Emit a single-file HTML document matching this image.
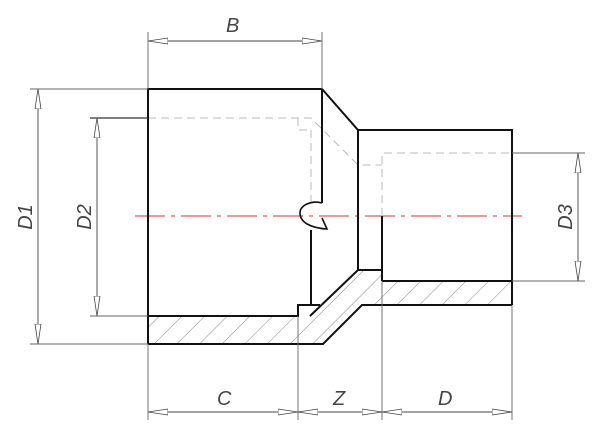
<!DOCTYPE html>
<html><head><style>body{margin:0;background:#fff}svg{display:block}text{font-family:"Liberation Sans",sans-serif;font-style:italic;font-size:20px;fill:#444}</style></head>
<body>
<svg width="600" height="439" viewBox="0 0 600 439">
<defs>
<pattern id="h" patternUnits="userSpaceOnUse" width="16" height="16" patternTransform="rotate(45)">
<line x1="0" y1="0" x2="0" y2="16" stroke="#888" stroke-width="1"/>
</pattern>
<marker id="a" viewBox="0 0 20 8" refX="20" refY="4" markerWidth="20" markerHeight="8" markerUnits="userSpaceOnUse" orient="auto-start-reverse">
<path d="M0,1 L20,4 L0,7 Z" fill="#fff" stroke="#444" stroke-width="0.8"/>
</marker>
</defs>
<polygon points="148,316 310,316 358,270 382,270 382,281 512,281 512,305 362,305 323,344 148,344" fill="url(#h)"/>
<line x1="135" y1="216" x2="522" y2="216" stroke="#d33" stroke-width="1" stroke-dasharray="30,6,4,6"/>
<g stroke="#bbb" fill="none" stroke-dasharray="8,5" stroke-width="1">
<polyline points="148,118 311,118 358,165 382,165"/>
<line x1="311" y1="130" x2="311" y2="205"/>
<polyline points="298,118 298,130 311,130"/>
<polyline points="382,216 382,153 512,153"/>
</g>
<g stroke="#111" fill="none" stroke-width="2">
<polyline points="148,344 148,89 322,89 358,130 512,130 512,305"/>
<line x1="322" y1="89" x2="322" y2="203"/>
<line x1="358" y1="130" x2="358" y2="270"/>
<polyline points="148,316 298,316 298,305 320,305"/>
<polyline points="311,230 311,305"/>
<polyline points="310,316 358,270 382,270"/>
<line x1="382" y1="216" x2="382" y2="281"/>
<polyline points="382,281 512,281"/>
<polyline points="148,344 323,344 362,305 512,305"/>
<path d="M322,203 C312,200 300,205 300,213 C300,222 310,228 327,229 L322,218" stroke-width="1.6"/>
</g>
<g stroke="#666" stroke-width="0.9" fill="none">
<line x1="148" y1="32" x2="148" y2="89"/>
<line x1="322" y1="32" x2="322" y2="89"/>
<line x1="30" y1="89" x2="148" y2="89"/>
<line x1="30" y1="344" x2="148" y2="344"/>
<line x1="90" y1="118" x2="148" y2="118" stroke="#333" stroke-width="1.3"/>
<line x1="90" y1="316" x2="148" y2="316"/>
<line x1="512" y1="153" x2="585" y2="153"/>
<line x1="512" y1="281" x2="585" y2="281"/>
<line x1="148" y1="344" x2="148" y2="420"/>
<line x1="298" y1="316" x2="298" y2="420"/>
<line x1="382" y1="281" x2="382" y2="420"/>
<line x1="512" y1="305" x2="512" y2="420"/>
</g>
<g stroke="#444" stroke-width="0.9" marker-start="url(#a)" marker-end="url(#a)">
<line x1="148" y1="41" x2="322" y2="41"/>
<line x1="38" y1="89" x2="38" y2="344"/>
<line x1="97" y1="118" x2="97" y2="316"/>
<line x1="578" y1="153" x2="578" y2="281"/>
<line x1="148" y1="412" x2="298" y2="412"/>
<line x1="298" y1="412" x2="382" y2="412"/>
<line x1="382" y1="412" x2="512" y2="412"/>
</g>
<text x="226" y="32">B</text>
<text x="217" y="405">C</text>
<text x="333" y="405">Z</text>
<text x="438" y="405">D</text>
<text transform="translate(32,217) rotate(-90)" text-anchor="middle">D1</text>
<text transform="translate(91,217) rotate(-90)" text-anchor="middle">D2</text>
<text transform="translate(572,217) rotate(-90)" text-anchor="middle">D3</text>
</svg>
</body></html>
